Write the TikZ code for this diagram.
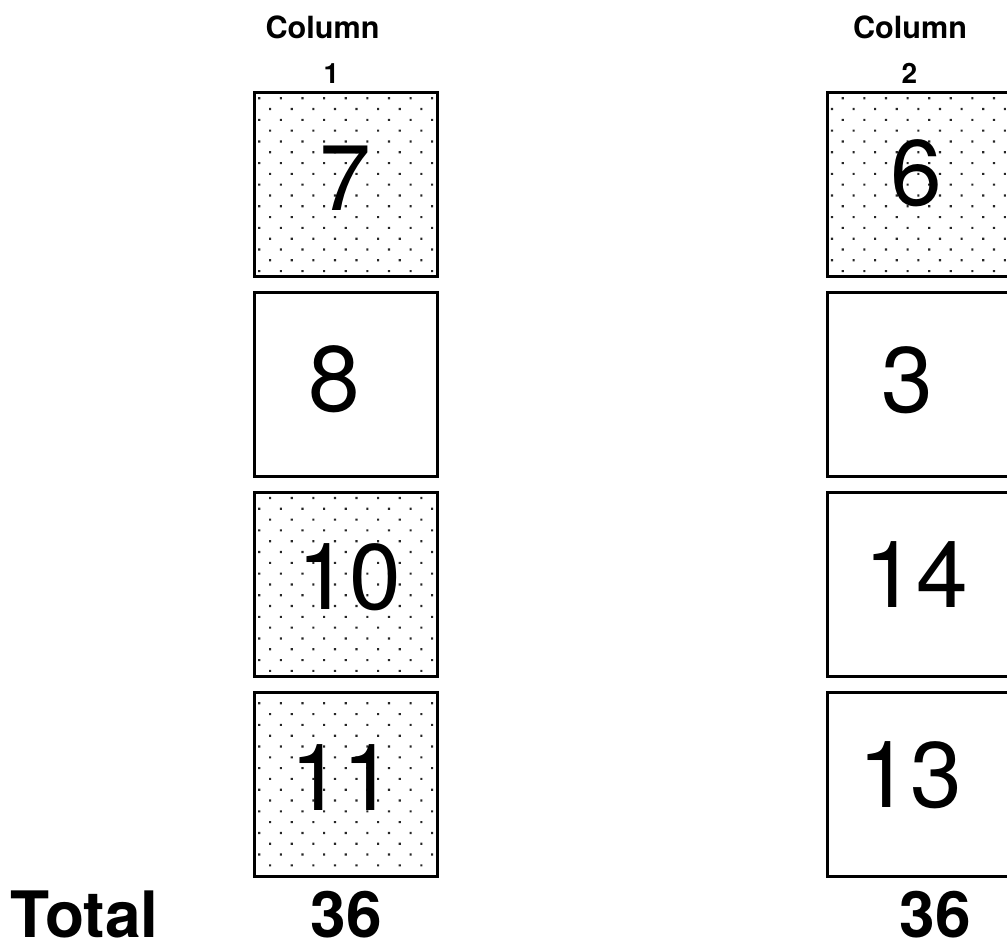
\documentclass[tikz,border=0pt]{standalone}
\usepackage{fontspec}
\setmainfont{TeX Gyre Heros}
\usetikzlibrary{patterns.meta}

\begin{document}
\begin{tikzpicture}[
    x=0.5pt, y=-0.5pt,
    cellbox/.style={
        draw=black,
        line width=1.4pt,
        minimum size=91.8pt,
        inner sep=0pt
    },
    dotcell/.style={
        cellbox,
        pattern={Dots[angle=45,distance=7.64pt,radius=0.75pt]},
        pattern color=black!85
    },
    cellnum/.style={inner sep=0pt, font=\fontsize{46.5}{48}\selectfont},
    headtext/.style={inner sep=0pt, anchor=base, font=\bfseries\fontsize{15.3}{17}\selectfont},
    headnum/.style={inner sep=0pt, anchor=base, font=\bfseries\fontsize{14}{16}\selectfont},
    totaltext/.style={inner sep=0pt, font=\bfseries\fontsize{32}{34}\selectfont}
]
    \useasboundingbox (0,0) rectangle (1007,941);

    % column headers
    \node[headtext] (head1) at (322.5,38.3) {Column};
    \node[headnum]  (num1)  at (331.5,83.3) {1};
    \node[headtext] (head2) at (910,38.3)   {Column};
    \node[headnum]  (num2)  at (909.3,83.3) {2};

    % column 1
    \node[dotcell] (a1) at (346,184.5) {};
    \node[cellbox] (a2) at (346,384.5) {};
    \node[dotcell] (a3) at (346,584.5) {};
    \node[dotcell] (a4) at (346,784.5) {};
    \node[cellnum] at (345,178)   {7};
    \node[cellnum] at (334,379)   {8};
    \node[cellnum] at (349,577.5) {10};
    \node[cellnum] at (342,778)   {11};

    % column 2
    \node[dotcell] (b1) at (919.5,184.5) {};
    \node[cellbox] (b2) at (919.5,384.5) {};
    \node[cellbox] (b3) at (919.5,584.5) {};
    \node[cellbox] (b4) at (919.5,784.5) {};
    \node[cellnum] at (916,173)   {6};
    \node[cellnum] at (907.5,380) {3};
    \node[cellnum] at (916,575)   {14};
    \node[cellnum] at (910,775)   {13};

    % totals
    \node[totaltext, anchor=base west] (total) at (10.5,937) {Total};
    \node[totaltext, anchor=base] (sum1) at (346.5,937) {36};
    \node[totaltext, anchor=base] (sum2) at (935,937)   {36};
\end{tikzpicture}
\end{document}
